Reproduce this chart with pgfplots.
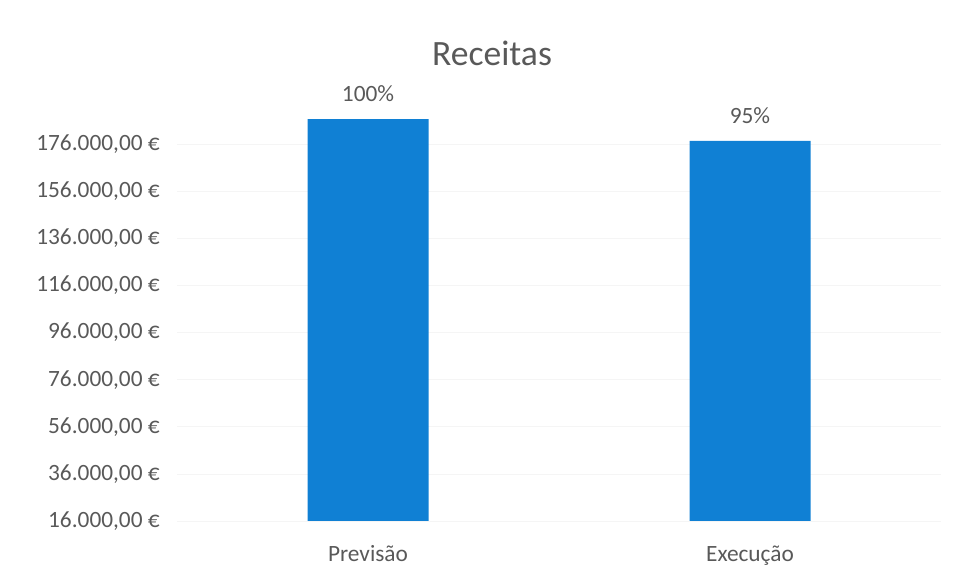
\documentclass[border=0pt]{standalone}
\usepackage{fontspec}
\setmainfont{Carlito}
\usepackage{pgfplots}
\pgfplotsset{compat=1.18}
\definecolor{barblue}{RGB}{16,128,212}
\definecolor{txt}{RGB}{89,89,89}
\begin{document}
\begin{tikzpicture}
\useasboundingbox (-132.75pt,-44.25pt) rectangle (584.25pt,390.75pt);
\begin{axis}[
    at={(0,0)}, anchor=south west,
    scale only axis,
    width=573pt, height=307.5pt,
    xmin=-0.5, xmax=1.5,
    ymin=16000, ymax=190000,
    axis line style={draw=none},
    major tick length=0pt,
    xtick={0,1},
    xticklabels={Previsão,Execução},
    ytick={16000,36000,...,176000},
    scaled y ticks=false,
    yticklabel={\pgfmathprintnumber[fixed,fixed zerofill,precision=2,use comma,1000 sep={.},assume math mode=true]{\tick}~€},
    ticklabel style={font=\fontsize{17.5}{21}\selectfont, text=txt},
    yticklabel style={anchor=east, inner sep=0pt, xshift=-12.75pt},
    xticklabel style={anchor=base, inner sep=0pt, yshift=-30.75pt},
    ymajorgrids,
    major grid style={draw=black!4},
]
\addplot[ybar, bar width=90.75pt, fill=barblue, draw=none,
    point meta=explicit symbolic,
    nodes near coords,
    nodes near coords style={anchor=base, inner sep=0pt, yshift=12.75pt,
        font=\fontsize{17.5}{21}\selectfont, text=txt}]
    coordinates {(0,186600) [100\%] (1,177300) [95\%]};
\end{axis}
\node[anchor=base, inner sep=0pt, text=txt, font=\fontsize{26.7}{32}\selectfont]
    at (236.25pt,341.25pt) {Receitas};
\end{tikzpicture}
\end{document}
